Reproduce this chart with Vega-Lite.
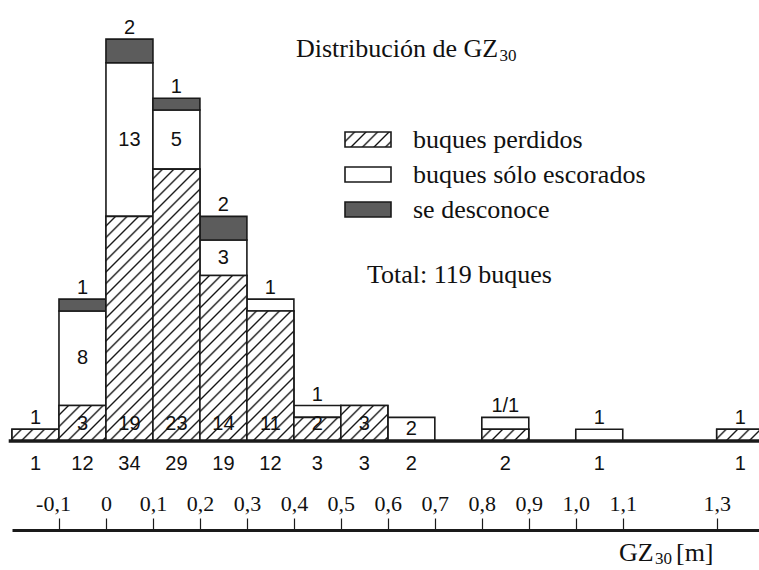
{
  "$schema": "https://vega.github.io/schema/vega-lite/v6.json",
  "width": 747,
  "height": 570,
  "padding": {"left": 12, "top": 0, "right": 0, "bottom": 0},
  "autosize": {"type": "none"},
  "background": "white",
  "config": {"view": {"stroke": null}},
  "params": [
    {"name": "hatch", "value": [
      {"offset": 0, "color": "#fff"},
      {"offset": 0.0215, "color": "#fff"}, {"offset": 0.0265, "color": "#111"}, {"offset": 0.032, "color": "#fff"},
      {"offset": 0.0535, "color": "#fff"}, {"offset": 0.0585, "color": "#111"}, {"offset": 0.064, "color": "#fff"},
      {"offset": 0.0855, "color": "#fff"}, {"offset": 0.0905, "color": "#111"}, {"offset": 0.096, "color": "#fff"},
      {"offset": 0.1175, "color": "#fff"}, {"offset": 0.1225, "color": "#111"}, {"offset": 0.128, "color": "#fff"},
      {"offset": 0.1495, "color": "#fff"}, {"offset": 0.1545, "color": "#111"}, {"offset": 0.16, "color": "#fff"},
      {"offset": 0.1815, "color": "#fff"}, {"offset": 0.1865, "color": "#111"}, {"offset": 0.192, "color": "#fff"},
      {"offset": 0.2135, "color": "#fff"}, {"offset": 0.2185, "color": "#111"}, {"offset": 0.224, "color": "#fff"},
      {"offset": 0.2455, "color": "#fff"}, {"offset": 0.2505, "color": "#111"}, {"offset": 0.256, "color": "#fff"},
      {"offset": 0.2775, "color": "#fff"}, {"offset": 0.2825, "color": "#111"}, {"offset": 0.288, "color": "#fff"},
      {"offset": 0.3095, "color": "#fff"}, {"offset": 0.3145, "color": "#111"}, {"offset": 0.32, "color": "#fff"},
      {"offset": 0.3415, "color": "#fff"}, {"offset": 0.3465, "color": "#111"}, {"offset": 0.352, "color": "#fff"},
      {"offset": 0.3735, "color": "#fff"}, {"offset": 0.3785, "color": "#111"}, {"offset": 0.384, "color": "#fff"},
      {"offset": 0.4055, "color": "#fff"}, {"offset": 0.4105, "color": "#111"}, {"offset": 0.416, "color": "#fff"},
      {"offset": 0.4375, "color": "#fff"}, {"offset": 0.4425, "color": "#111"}, {"offset": 0.448, "color": "#fff"},
      {"offset": 0.4695, "color": "#fff"}, {"offset": 0.4745, "color": "#111"}, {"offset": 0.48, "color": "#fff"},
      {"offset": 0.5015, "color": "#fff"}, {"offset": 0.5065, "color": "#111"}, {"offset": 0.512, "color": "#fff"},
      {"offset": 0.5335, "color": "#fff"}, {"offset": 0.5385, "color": "#111"}, {"offset": 0.544, "color": "#fff"},
      {"offset": 0.5655, "color": "#fff"}, {"offset": 0.5705, "color": "#111"}, {"offset": 0.576, "color": "#fff"},
      {"offset": 0.5975, "color": "#fff"}, {"offset": 0.6025, "color": "#111"}, {"offset": 0.608, "color": "#fff"},
      {"offset": 0.6295, "color": "#fff"}, {"offset": 0.6345, "color": "#111"}, {"offset": 0.64, "color": "#fff"},
      {"offset": 0.6615, "color": "#fff"}, {"offset": 0.6665, "color": "#111"}, {"offset": 0.672, "color": "#fff"},
      {"offset": 0.6935, "color": "#fff"}, {"offset": 0.6985, "color": "#111"}, {"offset": 0.704, "color": "#fff"},
      {"offset": 0.7255, "color": "#fff"}, {"offset": 0.7305, "color": "#111"}, {"offset": 0.736, "color": "#fff"},
      {"offset": 0.7575, "color": "#fff"}, {"offset": 0.7625, "color": "#111"}, {"offset": 0.768, "color": "#fff"},
      {"offset": 0.7895, "color": "#fff"}, {"offset": 0.7945, "color": "#111"}, {"offset": 0.8, "color": "#fff"},
      {"offset": 0.8215, "color": "#fff"}, {"offset": 0.8265, "color": "#111"}, {"offset": 0.832, "color": "#fff"},
      {"offset": 0.8535, "color": "#fff"}, {"offset": 0.8585, "color": "#111"}, {"offset": 0.864, "color": "#fff"},
      {"offset": 0.8855, "color": "#fff"}, {"offset": 0.8905, "color": "#111"}, {"offset": 0.896, "color": "#fff"},
      {"offset": 0.9175, "color": "#fff"}, {"offset": 0.9225, "color": "#111"}, {"offset": 0.928, "color": "#fff"},
      {"offset": 0.9495, "color": "#fff"}, {"offset": 0.9545, "color": "#111"}, {"offset": 0.96, "color": "#fff"},
      {"offset": 0.9815, "color": "#fff"}, {"offset": 0.9865, "color": "#111"}, {"offset": 0.992, "color": "#fff"}
    ]}
  ],
  "datasets": {
    "bars": [
      {"b0": -0.2, "b1": -0.1, "cat": "buques perdidos", "n": 1},
      {"b0": -0.1, "b1": 0.0, "cat": "buques perdidos", "n": 3},
      {"b0": -0.1, "b1": 0.0, "cat": "buques sólo escorados", "n": 8},
      {"b0": -0.1, "b1": 0.0, "cat": "se desconoce", "n": 1},
      {"b0": 0.0, "b1": 0.1, "cat": "buques perdidos", "n": 19},
      {"b0": 0.0, "b1": 0.1, "cat": "buques sólo escorados", "n": 13},
      {"b0": 0.0, "b1": 0.1, "cat": "se desconoce", "n": 2},
      {"b0": 0.1, "b1": 0.2, "cat": "buques perdidos", "n": 23},
      {"b0": 0.1, "b1": 0.2, "cat": "buques sólo escorados", "n": 5},
      {"b0": 0.1, "b1": 0.2, "cat": "se desconoce", "n": 1},
      {"b0": 0.2, "b1": 0.3, "cat": "buques perdidos", "n": 14},
      {"b0": 0.2, "b1": 0.3, "cat": "buques sólo escorados", "n": 3},
      {"b0": 0.2, "b1": 0.3, "cat": "se desconoce", "n": 2},
      {"b0": 0.3, "b1": 0.4, "cat": "buques perdidos", "n": 11},
      {"b0": 0.3, "b1": 0.4, "cat": "buques sólo escorados", "n": 1},
      {"b0": 0.4, "b1": 0.5, "cat": "buques perdidos", "n": 2},
      {"b0": 0.4, "b1": 0.5, "cat": "buques sólo escorados", "n": 1},
      {"b0": 0.5, "b1": 0.6, "cat": "buques perdidos", "n": 3},
      {"b0": 0.6, "b1": 0.7, "cat": "buques sólo escorados", "n": 2},
      {"b0": 0.8, "b1": 0.9, "cat": "buques perdidos", "n": 1},
      {"b0": 0.8, "b1": 0.9, "cat": "buques sólo escorados", "n": 1},
      {"b0": 1.0, "b1": 1.1, "cat": "buques sólo escorados", "n": 1},
      {"b0": 1.3, "b1": 1.4, "cat": "buques perdidos", "n": 1}
    ],
    "tops": [
      {"b0": -0.2, "b1": -0.1, "total": 1, "top": "1"},
      {"b0": -0.1, "b1": 0.0, "total": 12, "top": "1"},
      {"b0": 0.0, "b1": 0.1, "total": 34, "top": "2"},
      {"b0": 0.1, "b1": 0.2, "total": 29, "top": "1"},
      {"b0": 0.2, "b1": 0.3, "total": 19, "top": "2"},
      {"b0": 0.3, "b1": 0.4, "total": 12, "top": "1"},
      {"b0": 0.4, "b1": 0.5, "total": 3, "top": "1"},
      {"b0": 0.5, "b1": 0.6, "total": 3, "top": ""},
      {"b0": 0.6, "b1": 0.7, "total": 2, "top": ""},
      {"b0": 0.8, "b1": 0.9, "total": 2, "top": "1/1"},
      {"b0": 1.0, "b1": 1.1, "total": 1, "top": "1"},
      {"b0": 1.3, "b1": 1.4, "total": 1, "top": "1"}
    ]
  },
  "layer": [
    {
      "data": {"name": "bars"},
      "transform": [{"stack": "n", "groupby": ["b0"], "sort": [{"field": "cat", "order": "ascending"}], "as": ["s0", "s1"]}],
      "mark": {"type": "rect", "stroke": "#1a1a1a", "strokeWidth": 1.6},
      "encoding": {
        "x": {"field": "b0", "type": "quantitative",
          "scale": {"domain": [-0.2, 1.39], "nice": false, "zero": false},
          "axis": {"orient": "top", "offset": -530, "title": null, "grid": false,
            "values": [-0.1, 0, 0.1, 0.2, 0.3, 0.4, 0.5, 0.6, 0.7, 0.8, 0.9, 1, 1.1, 1.3],
            "labelExpr": "datum.value === 0 ? '0' : replace(replace(format(datum.value, '.1f'), '.', ','), '\u2212', '-')",
            "labelOffset": {"condition": {"test": "datum.value < 0", "value": -6}, "value": 0},
            "domainColor": "#1a1a1a", "domainWidth": 3, "tickColor": "#1a1a1a", "tickWidth": 1.2, "tickSize": 12,
            "labelFont": "Liberation Serif", "labelFontSize": 22, "labelColor": "#111",
            "labelBaseline": "alphabetic", "labelPadding": 8, "labelFlush": false, "labelOverlap": false, "labelAlign": "center"}},
        "x2": {"field": "b1"},
        "y": {"field": "s1", "type": "quantitative", "scale": {"domain": [-10.914, 37.31], "nice": false, "zero": false}, "axis": null},
        "y2": {"field": "s0"},
        "fill": {"field": "cat", "type": "nominal",
          "scale": {"domain": ["buques perdidos", "buques sólo escorados", "se desconoce"],
            "range": [{"expr": "{gradient: 'linear', x1: 0, y1: 0, x2: 7.062, y2: 2.303, stops: hatch}"}, "white", "#5c5c5c"]},
          "legend": {"orient": "none", "legendX": 343, "legendY": 126.5, "title": null, "padding": 0,
            "symbolType": "M-4,-1.304H4V1.304H-4Z", "symbolSize": 132.25,
            "symbolStrokeColor": "#1a1a1a", "symbolStrokeWidth": 1.6,
            "labelFont": "Liberation Serif", "labelFontSize": 26, "labelColor": "#111",
            "labelOffset": 32, "rowPadding": 9, "labelLimit": 400}}
      }
    },
    {
      "data": {"name": "bars"},
      "transform": [
        {"stack": "n", "groupby": ["b0"], "sort": [{"field": "cat", "order": "ascending"}], "as": ["s0", "s1"]},
        {"filter": "datum.cat === 'buques perdidos'"}
      ],
      "mark": {"type": "rect", "stroke": "#1a1a1a", "strokeWidth": 1.6,
        "fill": {"expr": "{gradient: 'linear', x1: 0, y1: 0, x2: 359.4*47/(2209 + pow(datum.n*11.82, 2)), y2: 359.4*datum.n*11.82/(2209 + pow(datum.n*11.82, 2)), stops: hatch}"}},
      "encoding": {
        "x": {"field": "b0", "type": "quantitative"},
        "x2": {"field": "b1"},
        "y": {"field": "s1", "type": "quantitative", "axis": null},
        "y2": {"field": "s0"}
      }
    },
    {
      "data": {"name": "bars"},
      "transform": [
        {"filter": "datum.cat === 'buques perdidos' && datum.n >= 2"},
        {"calculate": "(datum.b0 + datum.b1) / 2", "as": "c"}
      ],
      "mark": {"type": "text", "font": "Liberation Sans", "fontSize": 20, "fill": "#111", "baseline": "alphabetic", "dy": -11},
      "encoding": {
        "x": {"field": "c", "type": "quantitative"},
        "y": {"datum": 0, "type": "quantitative", "axis": null},
        "text": {"field": "n", "type": "quantitative"}
      }
    },
    {
      "data": {"name": "bars"},
      "transform": [
        {"stack": "n", "groupby": ["b0"], "sort": [{"field": "cat", "order": "ascending"}], "as": ["s0", "s1"]},
        {"filter": "datum.cat === 'buques sólo escorados' && datum.n >= 2"},
        {"calculate": "(datum.b0 + datum.b1) / 2", "as": "c"},
        {"calculate": "(datum.s0 + datum.s1) / 2", "as": "m"}
      ],
      "mark": {"type": "text", "font": "Liberation Sans", "fontSize": 20, "fill": "#111", "baseline": "middle"},
      "encoding": {
        "x": {"field": "c", "type": "quantitative"},
        "y": {"field": "m", "type": "quantitative", "axis": null},
        "text": {"field": "n", "type": "quantitative"}
      }
    },
    {
      "data": {"name": "tops"},
      "transform": [{"calculate": "(datum.b0 + datum.b1) / 2", "as": "c"}],
      "mark": {"type": "text", "font": "Liberation Sans", "fontSize": 20, "fill": "#111", "baseline": "alphabetic", "dy": -5},
      "encoding": {
        "x": {"field": "c", "type": "quantitative"},
        "y": {"field": "total", "type": "quantitative", "axis": null},
        "text": {"field": "top", "type": "nominal"}
      }
    },
    {
      "data": {"name": "tops"},
      "transform": [{"calculate": "(datum.b0 + datum.b1) / 2", "as": "c"}],
      "mark": {"type": "text", "font": "Liberation Sans", "fontSize": 20, "fill": "#111", "baseline": "alphabetic"},
      "encoding": {
        "x": {"field": "c", "type": "quantitative"},
        "y": {"datum": -2.453, "type": "quantitative", "axis": null},
        "text": {"field": "total", "type": "quantitative"}
      }
    },
    {
      "data": {"values": [{}]},
      "mark": {"type": "rule", "stroke": "#1a1a1a", "strokeWidth": 3.5},
      "encoding": {
        "x": {"datum": -0.207, "type": "quantitative"},
        "x2": {"datum": 1.39},
        "y": {"datum": 0, "type": "quantitative", "axis": null}
      }
    },
    {
      "data": {"values": [{}]},
      "mark": {"type": "text", "text": "Distribución de GZ", "font": "Liberation Serif", "fontSize": 26, "fill": "#111", "align": "left", "baseline": "alphabetic"},
      "encoding": {
        "x": {"datum": 0.4045, "type": "quantitative"},
        "y": {"datum": 32.49, "type": "quantitative", "axis": null}
      }
    },
    {
      "data": {"values": [{}]},
      "mark": {"type": "text", "text": "30", "font": "Liberation Serif", "fontSize": 17, "fill": "#111", "align": "left", "baseline": "alphabetic"},
      "encoding": {
        "x": {"datum": 0.8377, "type": "quantitative"},
        "y": {"datum": 32.149, "type": "quantitative", "axis": null}
      }
    },
    {
      "data": {"values": [{}]},
      "mark": {"type": "text", "text": "Total: 119 buques", "font": "Liberation Serif", "fontSize": 26, "fill": "#111", "align": "left", "baseline": "alphabetic"},
      "encoding": {
        "x": {"datum": 0.5556, "type": "quantitative"},
        "y": {"datum": 13.39, "type": "quantitative", "axis": null}
      }
    },
    {
      "data": {"values": [{}]},
      "mark": {"type": "text", "text": "GZ", "font": "Liberation Serif", "fontSize": 26, "fill": "#111", "align": "left", "baseline": "alphabetic"},
      "encoding": {
        "x": {"datum": 1.092, "type": "quantitative"},
        "y": {"datum": -10.152, "type": "quantitative", "axis": null}
      }
    },
    {
      "data": {"values": [{}]},
      "mark": {"type": "text", "text": "30", "font": "Liberation Serif", "fontSize": 17, "fill": "#111", "align": "left", "baseline": "alphabetic"},
      "encoding": {
        "x": {"datum": 1.1686, "type": "quantitative"},
        "y": {"datum": -10.406, "type": "quantitative", "axis": null}
      }
    },
    {
      "data": {"values": [{}]},
      "mark": {"type": "text", "text": "[m]", "font": "Liberation Serif", "fontSize": 26, "fill": "#111", "align": "left", "baseline": "alphabetic"},
      "encoding": {
        "x": {"datum": 1.2133, "type": "quantitative"},
        "y": {"datum": -10.152, "type": "quantitative", "axis": null}
      }
    }
  ]
}
